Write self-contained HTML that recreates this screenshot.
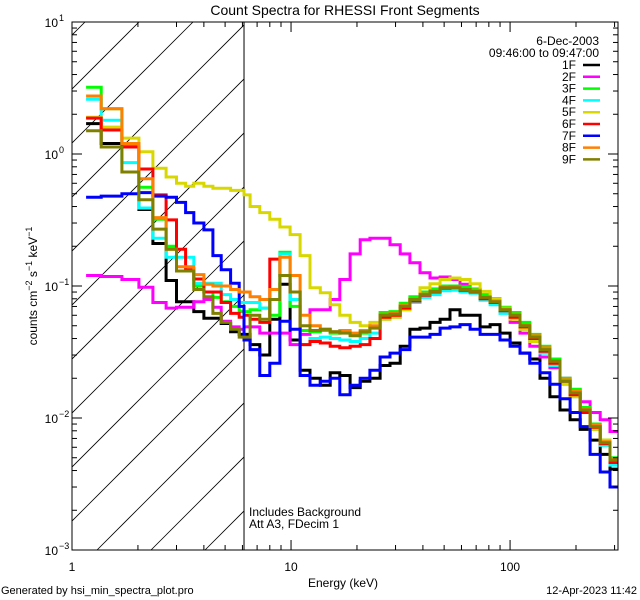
<!DOCTYPE html>
<html><head><meta charset="utf-8"><style>
html,body{margin:0;padding:0;background:#fff;}
svg{display:block;font-family:"Liberation Sans",sans-serif;}
</style></head><body>
<svg id="chart" width="640" height="600" viewBox="0 0 640 600" xmlns="http://www.w3.org/2000/svg">
<rect width="640" height="600" fill="#fff"/>
<text x="345" y="15" font-size="14" text-anchor="middle">Count Spectra for RHESSI Front Segments</text>
<g id="hatch"></g>
<g id="series"></g>
<g id="axes"></g>
<text transform="translate(37,286) rotate(-90)" font-size="12" text-anchor="middle">counts cm<tspan dy="-5" font-size="9">−2</tspan><tspan dy="5"> s</tspan><tspan dy="-5" font-size="9">−1</tspan><tspan dy="5"> keV</tspan><tspan dy="-5" font-size="9">−1</tspan></text>
<text x="343" y="587" font-size="12" text-anchor="middle">Energy (keV)</text>
<text x="1" y="594" font-size="11">Generated by hsi_min_spectra_plot.pro</text>
<text x="637" y="594" font-size="11" text-anchor="end">12-Apr-2023 11:42</text>
<text x="249" y="516" font-size="12">Includes Background</text>
<text x="249" y="528" font-size="12">Att A3, FDecim 1</text>
<text x="599" y="45" font-size="12" text-anchor="end">6-Dec-2003</text>
<text x="599" y="57" font-size="12" text-anchor="end">09:46:00 to 09:47:00</text>
<g id="legend"></g>
</svg>
<script>
const EDGES=[1.16,1.36,1.69,2.02,2.34,2.69,3.0,3.3,3.6,4.0,4.4,4.8,5.3,5.8,6.1,6.5,7.2,8.0,8.9,9.9,11.0,12.2,13.6,15.1,16.7,18.6,20.7,22.9,25.5,28.3,31.5,34.9,38.8,43.1,47.9,53.2,59.1,65.7,73.0,81.1,90.0,100,111,123,137,152,169,188,209,232,258,286,311];
const S1F=[1.7,1.2,1.2,0.38,0.21,0.11,0.076,0.076,0.064,0.057,0.057,0.052,0.045,0.043,0.043,0.036,0.030,0.056,0.103,0.039,0.023,0.020,0.0177,0.022,0.021,0.017,0.019,0.020,0.025,0.026,0.035,0.047,0.048,0.053,0.056,0.066,0.060,0.060,0.049,0.051,0.044,0.037,0.031,0.028,0.020,0.0145,0.0115,0.0097,0.0082,0.0068,0.0053,0.0041];
const S2F=[0.12,0.118,0.112,0.098,0.075,0.068,0.069,0.069,0.076,0.079,0.069,0.054,0.049,0.047,0.049,0.049,0.044,0.044,0.044,0.036,0.043,0.066,0.066,0.079,0.112,0.175,0.224,0.23,0.23,0.205,0.175,0.15,0.126,0.115,0.117,0.112,0.103,0.094,0.082,0.075,0.063,0.053,0.044,0.035,0.029,0.024,0.020,0.0163,0.0133,0.011,0.0097,0.0079];
const S3F=[3.2,2.2,1.15,0.56,0.32,0.2,0.13,0.13,0.1,0.09,0.082,0.076,0.07,0.064,0.064,0.066,0.068,0.06,0.18,0.07,0.046,0.045,0.046,0.044,0.045,0.043,0.044,0.049,0.063,0.064,0.074,0.083,0.09,0.095,0.10,0.10,0.098,0.095,0.086,0.08,0.069,0.063,0.053,0.043,0.035,0.028,0.020,0.0165,0.012,0.009,0.0068,0.005];
const S4F=[2.6,1.8,0.86,0.39,0.23,0.165,0.165,0.165,0.105,0.105,0.105,0.086,0.079,0.075,0.075,0.075,0.068,0.079,0.175,0.079,0.036,0.04,0.041,0.040,0.039,0.038,0.040,0.044,0.056,0.058,0.066,0.075,0.082,0.086,0.092,0.093,0.09,0.088,0.078,0.072,0.062,0.057,0.047,0.039,0.031,0.025,0.018,0.0145,0.011,0.0082,0.0062,0.0044];
const S5F=[1.9,1.6,1.32,1.04,0.78,0.67,0.6,0.57,0.6,0.57,0.55,0.55,0.53,0.53,0.49,0.40,0.36,0.32,0.28,0.245,0.17,0.097,0.089,0.072,0.06,0.053,0.05,0.053,0.056,0.058,0.066,0.079,0.097,0.104,0.112,0.115,0.112,0.104,0.091,0.079,0.068,0.056,0.047,0.038,0.033,0.026,0.018,0.0145,0.0115,0.0082,0.0068,0.0048];
const S6F=[1.87,1.52,1.13,0.77,0.49,0.317,0.19,0.133,0.113,0.09,0.09,0.075,0.062,0.058,0.06,0.056,0.053,0.16,0.12,0.09,0.036,0.038,0.037,0.035,0.034,0.035,0.036,0.04,0.058,0.06,0.068,0.077,0.085,0.09,0.096,0.098,0.093,0.09,0.08,0.075,0.065,0.058,0.049,0.04,0.032,0.026,0.019,0.015,0.011,0.0085,0.0064,0.0046];
const S7F=[0.47,0.48,0.50,0.51,0.48,0.47,0.43,0.36,0.30,0.266,0.17,0.133,0.105,0.07,0.039,0.033,0.021,0.026,0.054,0.047,0.021,0.0177,0.019,0.020,0.015,0.0177,0.020,0.023,0.029,0.031,0.033,0.041,0.041,0.043,0.048,0.049,0.051,0.047,0.043,0.043,0.039,0.035,0.031,0.026,0.022,0.018,0.014,0.011,0.0086,0.0053,0.0039,0.003];
const S8F=[2.75,2.2,1.2,0.65,0.33,0.19,0.14,0.14,0.122,0.103,0.1,0.1,0.094,0.09,0.09,0.083,0.079,0.094,0.165,0.12,0.06,0.05,0.047,0.045,0.046,0.044,0.046,0.05,0.061,0.062,0.071,0.08,0.087,0.092,0.098,0.098,0.095,0.093,0.083,0.077,0.067,0.061,0.051,0.042,0.034,0.027,0.0195,0.016,0.0118,0.0088,0.0066,0.0049];
const S9F=[1.5,1.13,0.73,0.45,0.27,0.19,0.13,0.13,0.094,0.083,0.062,0.053,0.047,0.041,0.041,0.06,0.056,0.079,0.12,0.09,0.05,0.046,0.047,0.045,0.044,0.042,0.045,0.048,0.06,0.061,0.07,0.079,0.086,0.091,0.097,0.097,0.094,0.091,0.082,0.076,0.066,0.06,0.05,0.041,0.033,0.027,0.019,0.0155,0.0115,0.0086,0.0065,0.0048];
const SERIES_NAMES=["1F","2F","3F","4F","5F","6F","7F","8F","9F"];
const SERIES_COLORS=["#000000","#ff00ff","#00ff00","#00ffff","#d8d800","#ff0000","#0000ff","#ff8000","#808000"];
const SERIES=[S1F,S2F,S3F,S4F,S5F,S6F,S7F,S8F,S9F];
const X_TICK_LABELS=["1","10","100"];
const YEXP=[1,0,-1,-2,-3];

const NS="http://www.w3.org/2000/svg";
const L=72,R=618,T=22,B=550;
const XMIN=1,XMAX=311,YMIN=0.001,YMAX=10;
function xs(e){return L+(Math.log10(e)-Math.log10(XMIN))/(Math.log10(XMAX)-Math.log10(XMIN))*(R-L);}
function ys(v){return T+(Math.log10(YMAX)-Math.log10(v))/(Math.log10(YMAX)-Math.log10(YMIN))*(B-T);}
function mk(tag,attrs,parent){const el=document.createElementNS(NS,tag);for(const k in attrs)el.setAttribute(k,attrs[k]);parent.appendChild(el);return el;}

const hatch=document.getElementById('hatch');
const defs=mk('defs',{},hatch);
const cp=mk('clipPath',{id:'hclip'},defs);
mk('rect',{x:L,y:T,width:xs(6.1)-L,height:B-T},cp);
const hg=mk('g',{'clip-path':'url(#hclip)'},hatch);
for(let x0=97-54*10;x0<260;x0+=54){
  const ln=mk('line',{x1:x0,y1:B,x2:x0+(B-T),y2:T,stroke:'#000','stroke-width':0.8},hg);
  
  
}
const vl=mk('line',{x1:xs(6.1),y1:T,x2:xs(6.1),y2:B,stroke:'#000','stroke-width':1},hatch);



const sg=document.getElementById('series');
SERIES.forEach((vals,si)=>{
  let d='';
  for(let i=0;i<vals.length;i++){
    const x1=xs(EDGES[i]),x2=xs(EDGES[i+1]),y=ys(vals[i]);
    d+=(i===0?'M':'L')+x1.toFixed(1)+','+y.toFixed(1)+'L'+x2.toFixed(1)+','+y.toFixed(1);
  }
  const p=mk('path',{d:d,fill:'none',stroke:SERIES_COLORS[si],'stroke-width':3,'stroke-linejoin':'miter'},sg);
  
  
});

const ax=document.getElementById('axes');
const fr=mk('rect',{x:L,y:T,width:R-L,height:B-T,fill:'none',stroke:'#000','stroke-width':1},ax);


for(let dec=0;dec<3;dec++){
  for(let m=1;m<10;m++){
    const e=Math.pow(10,dec)*m; if(e>XMAX)break;
    const x=xs(e),len=(m===1)?10:5;
    mk('line',{x1:x,y1:B,x2:x,y2:B-len,stroke:'#000'},ax);
    mk('line',{x1:x,y1:T,x2:x,y2:T+len,stroke:'#000'},ax);
  }
  const t=mk('text',{x:xs(Math.pow(10,dec)),y:571,'font-size':12,'text-anchor':'middle'},ax);
  t.textContent=X_TICK_LABELS[dec];
  
  
}
for(let p=-3;p<=1;p++){
  for(let m=1;m<10;m++){
    const v=Math.pow(10,p)*m; if(v>YMAX)break;
    const y=ys(v),len=(m===1)?10:5;
    mk('line',{x1:L,y1:y,x2:L+len,y2:y,stroke:'#000'},ax);
    mk('line',{x1:R,y1:y,x2:R-len,y2:y,stroke:'#000'},ax);
  }
}
YEXP.forEach(p=>{
  const y=ys(Math.pow(10,p));
  const t=mk('text',{x:58,y:y+5,'font-size':12,'text-anchor':'end'},ax);
  t.textContent='10';
  
  
  const s=mk('text',{x:59,y:y-1,'font-size':9},ax);
  s.textContent=(p<0?'−'+(-p):String(p));
  
  
});

const lg=document.getElementById('legend');
SERIES_NAMES.forEach((n,i)=>{
  const y=65+i*11.8;
  const t=mk('text',{x:576,y:y+4,'font-size':12,'text-anchor':'end'},lg);
  t.textContent=n;
  
  
  const l=mk('line',{x1:583,y1:y,x2:600,y2:y,stroke:SERIES_COLORS[i],'stroke-width':2.5},lg);
  
  
});
</script>
</body></html>
